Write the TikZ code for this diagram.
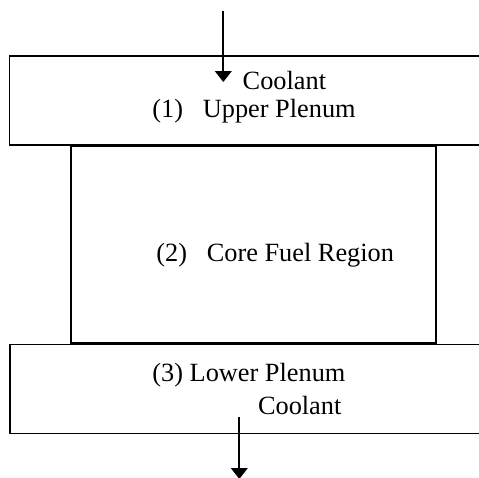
\documentclass[tikz,border=0pt]{standalone}
\usepackage{fontspec}
\setmainfont{Liberation Serif}
\usetikzlibrary{arrows.meta}
\newcommand{\pxu}{0.456pt}
\tikzset{
  plenumbox/.style={draw=black, line width=0.6pt, inner sep=0pt, minimum width=480.5*\pxu, minimum height=89*\pxu},
  corebox/.style={draw=black, line width=0.9pt, inner sep=0pt, minimum width=365*\pxu, minimum height=197.5*\pxu},
  regionlab/.style={font=\fontsize{12}{14}\selectfont, inner sep=0pt, anchor=base west},
  flowarrow/.style={-{Triangle[width=7.6pt, length=5pt]}, line width=0.75pt, draw=black},
}
\begin{document}
\begin{tikzpicture}[x=\pxu, y=-\pxu]
    \useasboundingbox (0,0) rectangle (479,477);
    \clip (0,0) rectangle (479,477);
    \node[plenumbox] (upper) at (249.75,100.4) {};
    \node[plenumbox] (lower) at (250.25,388.8) {};
    \node[corebox] (core) at (253.2,244.3) {};
    \node[regionlab] (coolantin) at (242.3,89.3) {Coolant};
    \node[regionlab] (upperlab) at (152,117.3) {(1)\hspace{0.75em}Upper Plenum};
    \node[regionlab] (corelab) at (156,261.7) {(2)\hspace{0.75em}Core Fuel Region};
    \node[regionlab] (lowerlab) at (152,381) {(3) Lower Plenum};
    \node[regionlab] (coolantout) at (257.6,414.3) {Coolant};
    \coordinate (inflow) at (223.3,11);
    \coordinate (inflowtip) at (223.3,82);
    \coordinate (outflow) at (239.3,416.7);
    \coordinate (outflowtip) at (239.3,479);
    \draw[flowarrow] (inflow) -- (inflowtip);
    \draw[flowarrow] (outflow) -- (outflowtip);
  \end{tikzpicture}
\end{document}
